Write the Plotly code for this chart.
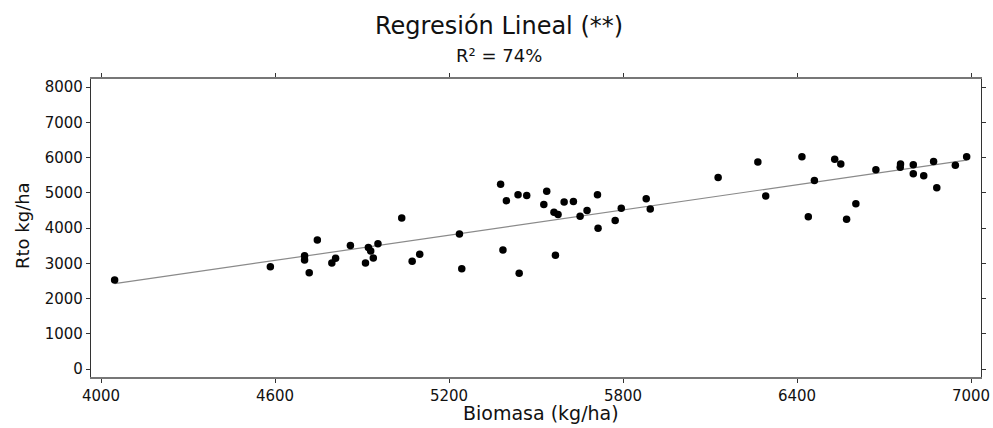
import numpy as np
import plotly.graph_objects as go

title_text = "Regresión Lineal (**)"
subtitle_text = "R² = 74%"
x_label = "Biomasa (kg/ha)"
y_label = "Rto kg/ha"

biomasa = [4047, 4584, 4746, 4702, 4702, 4718, 4796, 4809,
           4860, 4912, 4922, 4930, 4939, 4955, 5037, 5073, 5099, 5236, 5244,
           5378, 5398, 5386, 5438, 5468, 5442, 5537, 5527, 5562, 5576, 5567,
           5597, 5629,
           5652, 5676, 5712, 5714, 5773, 5794, 5880, 5894, 6128, 6265, 6292,
           6417, 6439, 6460, 6530, 6551, 6571, 6603, 6672, 6757, 6756, 6801,
           6801, 6837, 6871, 6882, 6946, 6985]
rto = [2525, 2900, 3660, 3215, 3090, 2730, 3005, 3140,
       3500, 3005, 3450, 3345, 3150, 3555, 4285, 3060, 3255, 3830, 2845,
       5240, 4775, 3375, 4945, 4925, 2715, 5040, 4670, 4445, 4380, 3225,
       4735, 4755,
       4330, 4500, 4945, 3990, 4210, 4560, 4830, 4540, 5435, 5870, 4905,
       6020, 4320, 5350, 5950, 5815, 4245, 4690, 5655, 5815, 5720, 5795,
       5540, 5485, 5890, 5145, 5780, 6020]

x_ticks = [4000, 4600, 5200, 5800, 6400, 7000]
y_ticks = [0, 1000, 2000, 3000, 4000, 5000, 6000, 7000, 8000]

xa = np.array(biomasa, dtype=float)
ya = np.array(rto, dtype=float)
slope, intercept = np.polyfit(xa, ya, 1)
x_line = np.array([xa.min(), xa.max()])
y_line = slope * x_line + intercept

fig = go.Figure()
fig.add_trace(go.Scatter(x=x_line, y=y_line, mode="lines",
                         line=dict(color="#8a8a8a", width=1.2),
                         hoverinfo="skip", showlegend=False))
fig.add_trace(go.Scatter(x=biomasa, y=rto, mode="markers",
                         marker=dict(color="black", size=7.5, line=dict(width=0)),
                         showlegend=False))

W, H = 993, 428
L, R, T, B = 91, 981, 79, 377
font_family = "DejaVu Sans, Verdana, sans-serif"
txt = "#111"

def px_x(px):
    return (px - L) / (R - L)

def px_y(py):
    return (B - py) / (B - T)

fig.update_layout(
    width=W, height=H,
    margin=dict(l=L, r=W - R, t=T, b=H - B),
    plot_bgcolor="white", paper_bgcolor="white",
    font=dict(family=font_family, color=txt),
    showlegend=False,
)
fig.add_annotation(text=title_text, xref="paper", yref="paper",
                   x=px_x(499), y=px_y(26), xanchor="center", yanchor="middle",
                   showarrow=False, font=dict(size=24, color=txt))
fig.add_annotation(text=subtitle_text, xref="paper", yref="paper",
                   x=px_x(499), y=px_y(56), xanchor="center", yanchor="middle",
                   showarrow=False, font=dict(size=18, color=txt))
fig.add_annotation(text=x_label, xref="paper", yref="paper",
                   x=px_x(541), y=px_y(413), xanchor="center", yanchor="middle",
                   showarrow=False, font=dict(size=19, color=txt))
fig.add_annotation(text=y_label, xref="paper", yref="paper",
                   x=px_x(22), y=px_y(226), xanchor="center", yanchor="middle",
                   textangle=-90, showarrow=False, font=dict(size=18, color=txt))

fig.update_xaxes(range=[3965.5, 7034.5], tickvals=x_ticks,
                 ticktext=[str(v) for v in x_ticks], automargin=False,
                 showgrid=False, zeroline=False,
                 showline=True, linecolor="#777", linewidth=1.5, mirror="ticks",
                 ticks="outside", ticklen=4, tickcolor="#333", tickwidth=1,
                 tickfont=dict(size=15, color=txt))
fig.update_yaxes(range=[-227, 8227], tickvals=y_ticks,
                 ticktext=[str(v) for v in y_ticks], automargin=False,
                 showgrid=False, zeroline=False,
                 showline=True, linecolor="#333", linewidth=1.2, mirror="ticks",
                 ticks="outside", ticklen=4, tickcolor="#333", tickwidth=1,
                 tickfont=dict(size=15, color=txt))

fig.write_html("out.html",
               config={"displayModeBar": False},
               post_script="document.body.style.margin='0px';"
                           "document.body.style.padding='0px';"
                           "document.body.style.overflow='hidden';")
